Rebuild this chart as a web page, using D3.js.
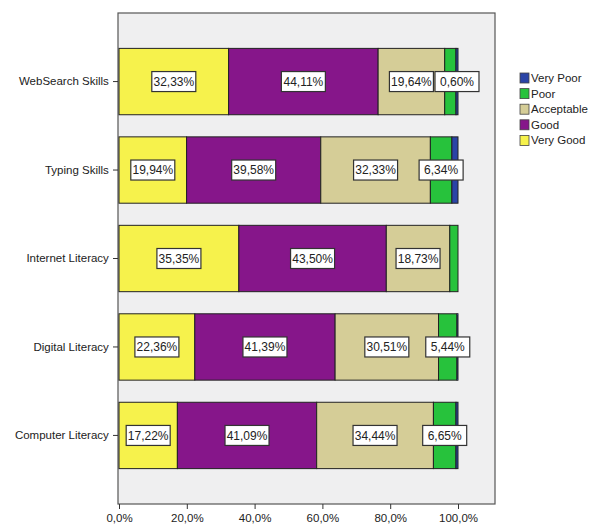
<!DOCTYPE html>
<html>
<head>
<meta charset="utf-8">
<script src="https://cdn.jsdelivr.net/npm/d3@7"></script>
<style>
  body { margin: 0; background: #fff; }
  text { font-family: "Liberation Sans", Arial, sans-serif; }
</style>
</head>
<body>
<script>
// data
const categories = ["WebSearch Skills", "Typing Skills", "Internet Literacy", "Digital Literacy", "Computer Literacy"];
const levels = ["Very Good", "Good", "Acceptable", "Poor", "Very Poor"];
const veryGood   = [32.33, 19.94, 35.35, 22.36, 17.22];
const good       = [44.11, 39.58, 43.50, 41.39, 41.09];
const acceptable = [19.64, 32.33, 18.73, 30.51, 34.44];
const poor       = [3.32, 6.34, 2.42, 5.44, 6.65];
const veryPoor   = [0.60, 1.81, 0.00, 0.30, 0.60];
// which segments carry a value label in the picture
const labelled = [
  ["Very Good", "Good", "Acceptable", "Very Poor"],
  ["Very Good", "Good", "Acceptable", "Poor"],
  ["Very Good", "Good", "Acceptable"],
  ["Very Good", "Good", "Acceptable", "Poor"],
  ["Very Good", "Good", "Acceptable", "Poor"]
];
const xTicks = [0, 20, 40, 60, 80, 100];
const legendOrder = ["Very Poor", "Poor", "Acceptable", "Good", "Very Good"];

const seriesValues = [veryGood, good, acceptable, poor, veryPoor];
const rows = categories.map((c, i) => {
  const r = { category: c };
  levels.forEach((l, j) => r[l] = seriesValues[j][i]);
  return r;
});

// dimensions
const dms = { width: 595, height: 530, margins: { top: 13, right: 100, bottom: 26, left: 118 } };
dms.innerWidth = 495 - dms.margins.left;
dms.innerHeight = 504 - dms.margins.top;

const svg = d3.select("body").append("svg")
  .attr("width", dms.width)
  .attr("height", dms.height);

const g = svg.append("g")
  .attr("transform", `translate(${dms.margins.left},${dms.margins.top})`);

// scales
const xScale = d3.scaleLinear().domain([0, 100]).range([1, 340]);
const yScale = d3.scaleBand()
  .domain(categories)
  .range([0, dms.innerHeight])
  .paddingInner(0.25)
  .paddingOuter(0.4);

const colorScale = d3.scaleOrdinal()
  .domain(levels)
  .range(["#f6f24c", "#86168a", "#d5cd97", "#27c23c", "#2a44a6"]);

// plot background
g.append("rect")
  .attr("width", dms.innerWidth)
  .attr("height", dms.innerHeight)
  .attr("fill", "#efeff0")
  .attr("stroke", "#555")
  .attr("stroke-width", 1.2);

// bars
const stack = d3.stack().keys(levels)(rows);

const layers = g.selectAll("g.layer")
  .data(stack)
  .enter().append("g")
    .attr("class", "layer")
    .attr("fill", d => colorScale(d.key));

layers.selectAll("rect")
  .data(d => d.map(s => Object.assign(s, { key: d.key })))
  .enter().append("rect")
    .attr("x", d => xScale(d[0]))
    .attr("y", d => yScale(d.data.category))
    .attr("width", d => Math.max(0, xScale(d[1]) - xScale(d[0])))
    .attr("height", yScale.bandwidth())
    .attr("stroke", "#222")
    .attr("stroke-width", 1);

// value labels
const labelData = [];
stack.forEach(layer => {
  layer.forEach((s, i) => {
    if (labelled[i].includes(layer.key)) labelData.push(s);
  });
});

const labels = g.selectAll("g.vlabel")
  .data(labelData)
  .enter().append("g")
    .attr("class", "vlabel")
    .attr("transform", d => `translate(${(xScale(d[0]) + xScale(d[1])) / 2},${yScale(d.data.category) + yScale.bandwidth() / 2})`);

labels.append("rect")
  .attr("x", -22)
  .attr("y", -10)
  .attr("width", 44)
  .attr("height", 20)
  .attr("fill", "#fff")
  .attr("stroke", "#333")
  .attr("stroke-width", 1.2);

labels.append("text")
  .attr("text-anchor", "middle")
  .attr("dy", "0.36em")
  .attr("font-size", 12)
  .attr("fill", "#222")
  .text(d => (d[1] - d[0]).toFixed(2).replace(".", ",") + "%");

// axes
const xAxis = g.append("g")
  .attr("transform", `translate(0,${dms.innerHeight})`)
  .call(d3.axisBottom(xScale).tickValues(xTicks).tickSize(5).tickSizeOuter(0)
    .tickFormat(d => d.toFixed(1).replace(".", ",") + "%"));
xAxis.select(".domain").remove();
xAxis.selectAll("line").attr("stroke", "#333");
xAxis.selectAll("text").attr("font-size", 11.5).attr("fill", "#222").attr("dy", "0.85em")
  .attr("font-family", "Liberation Sans, Arial, sans-serif");

const yAxis = g.append("g")
  .call(d3.axisLeft(yScale).tickSize(5).tickSizeOuter(0));
yAxis.select(".domain").remove();
yAxis.selectAll("line").attr("stroke", "#333");
yAxis.selectAll("text").attr("font-size", 11.5).attr("fill", "#222").attr("dx", "-0.1em")
  .attr("font-family", "Liberation Sans, Arial, sans-serif");

// legend
const legend = svg.append("g")
  .attr("transform", "translate(520,73)");

const items = legend.selectAll("g")
  .data(legendOrder)
  .enter().append("g")
    .attr("transform", (d, i) => `translate(0,${i * 15.6})`);

items.append("rect")
  .attr("width", 9)
  .attr("height", 10)
  .attr("fill", d => colorScale(d))
  .attr("stroke", "#444")
  .attr("stroke-width", 0.8);

items.append("text")
  .attr("x", 11)
  .attr("y", 5)
  .attr("dy", "0.35em")
  .attr("font-size", 11.5)
  .attr("fill", "#222")
  .text(d => d);
</script>
</body>
</html>
